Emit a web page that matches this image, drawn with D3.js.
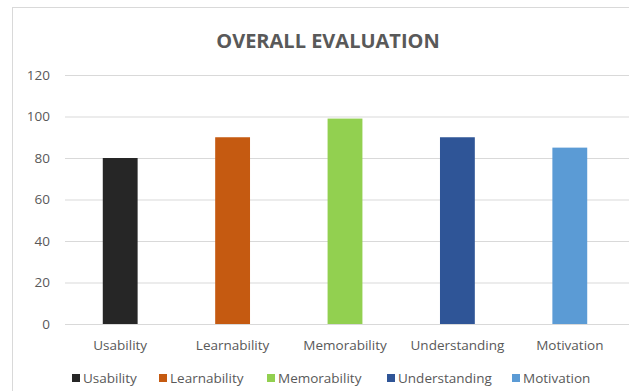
<!DOCTYPE html>
<html>
<head>
<meta charset="utf-8">
<script src="https://cdn.jsdelivr.net/npm/d3@7"></script>
<style>
  body { margin: 0; background: #fff; }
  text { font-family: "Open Sans", "Liberation Sans", sans-serif; }
</style>
</head>
<body>
<div id="chart"></div>
<script>
// data
const categories = ["Usability", "Learnability", "Memorability", "Understanding", "Motivation"];
const values = [80, 90, 99, 90, 85];
const colors = ["#262626", "#c55a11", "#92d050", "#2f5597", "#5b9bd5"];
const yTicks = [0, 20, 40, 60, 80, 100, 120];

const W = 629, H = 391;
const svg = d3.select("#chart").append("svg")
    .attr("width", W)
    .attr("height", H);

// chart area border (runs off the right and bottom edges)
svg.append("rect")
    .attr("x", 12.5).attr("y", 7.5)
    .attr("width", 640).attr("height", 400)
    .attr("fill", "#fff")
    .attr("stroke", "#d9d9d9");

svg.append("text")
    .attr("x", 328).attr("y", 48)
    .attr("text-anchor", "middle")
    .attr("font-size", 20)
    .attr("font-weight", "bold")
    .attr("fill", "#595959")
    .text("OVERALL EVALUATION");

let xScale = d3.scaleBand()
    .domain(categories)
    .range([64, 626])
    .paddingInner(0.69)
    .paddingOuter(0.345);

let yScale = d3.scaleLinear()
    .domain([0, 120])
    .range([324, 75]);

// gridlines + y labels
let yAxis = svg.append("g")
    .attr("transform", "translate(65,0)")
    .call(d3.axisLeft(yScale).tickValues(yTicks).tickSize(-570).tickPadding(15));
yAxis.select(".domain").remove();
yAxis.selectAll("line").attr("stroke", "#d9d9d9");
yAxis.selectAll("text")
    .attr("fill", "#595959")
    .attr("font-size", 13.5)
    .attr("font-family", "'Open Sans', sans-serif");

// bars
svg.append("g")
    .selectAll(".bar")
    .data(categories)
    .enter()
    .append("rect")
    .attr("class", "bar")
    .attr("x", d => xScale(d))
    .attr("y", (d, i) => yScale(values[i]))
    .attr("width", xScale.bandwidth())
    .attr("height", (d, i) => yScale(0) - yScale(values[i]))
    .attr("fill", (d, i) => colors[i]);

// x labels
let xAxis = svg.append("g")
    .attr("transform", "translate(0,324)")
    .call(d3.axisBottom(xScale).tickSize(0).tickPadding(16));
xAxis.select(".domain").remove();
xAxis.selectAll("text")
    .attr("fill", "#595959")
    .attr("font-size", 13.5)
    .attr("font-family", "'Open Sans', sans-serif");

// legend
const legendX = [72, 159, 267, 387, 512];
let legend = svg.append("g")
    .selectAll("g")
    .data(categories)
    .enter()
    .append("g")
    .attr("transform", (d, i) => "translate(" + legendX[i] + ",383)");
legend.append("rect")
    .attr("x", 0).attr("y", -9)
    .attr("width", 8).attr("height", 8)
    .attr("fill", (d, i) => colors[i]);
legend.append("text")
    .attr("x", 11).attr("y", 0)
    .attr("font-size", 13.5)
    .attr("fill", "#595959")
    .text(d => d);
</script>
</body>
</html>
